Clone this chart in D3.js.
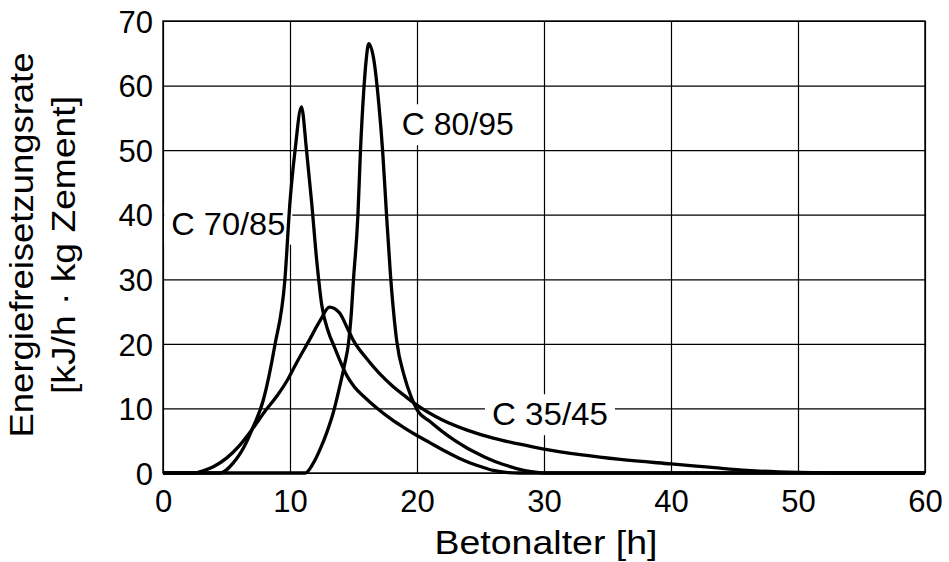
<!DOCTYPE html>
<html>
<head>
<meta charset="utf-8">
<script src="https://cdn.jsdelivr.net/npm/d3@7"></script>
<style>
    body { margin: 0; background: #fff; }
    svg { display: block; font-family: "Liberation Sans", Arial, sans-serif; }
</style>
</head>
<body>
<svg id="chart" width="949" height="562"></svg>
<script>
// Data
const xTicks = [0, 10, 20, 30, 40, 50, 60];
const yTicks = [0, 10, 20, 30, 40, 50, 60, 70];

const c3545Hours = [0, 2.5, 3.1, 4, 5, 6, 7, 8, 9, 9.8, 10.5, 11.5, 12.4, 13.1, 13.9, 14.5, 15, 16, 17, 18, 19, 20, 22, 24, 26, 28, 30, 33, 36, 40, 43, 46, 50, 55, 60];
const c3545Rate  = [0, 0, 0.3, 1, 2.3, 4.2, 6.7, 9.5, 12, 14.4, 17, 20.5, 23.7, 25.7, 24.8, 22.5, 20.5, 17.8, 15.5, 13.6, 12, 10.5, 8.2, 6.6, 5.4, 4.5, 3.7, 2.8, 2.1, 1.4, 0.9, 0.4, 0.1, 0, 0];

const c7085Hours = [0, 4.5, 5.5, 6.5, 7, 7.9, 8.8, 9.6, 10, 10.4, 10.9, 11.3, 11.7, 12.1, 12.5, 13, 13.5, 14.5, 15, 16, 17, 18, 19, 20, 21, 22, 23, 24, 25, 26, 27, 28, 60];
const c7085Rate  = [0, 0, 1.5, 4.5, 6.7, 11.3, 19.7, 30, 42, 50, 56.7, 50, 42, 33, 26, 22, 19.5, 15, 13.5, 11.5, 9.8, 8.3, 7, 5.8, 4.7, 3.6, 2.6, 1.7, 1, 0.4, 0.1, 0, 0];

const c8095Hours = [0, 11.2, 11.8, 12.4, 12.9, 13.4, 13.9, 14.3, 14.6, 14.8, 15, 15.35, 15.55, 15.8, 16, 16.2, 16.6, 17, 17.3, 17.6, 17.9, 18.4, 19, 19.5, 20, 21, 22, 23, 24, 25, 26, 27, 28, 29, 30, 60];
const c8095Rate  = [0, 0, 1.4, 3.8, 6.3, 9.3, 13.3, 16.8, 20, 24, 30, 40, 50, 59, 64, 66.5, 64, 57, 49.7, 40, 31, 20.5, 15, 12, 9.8, 8, 6.4, 5, 3.8, 2.8, 1.9, 1.2, 0.6, 0.2, 0, 0];

const seriesLabels = ['C 35/45', 'C 70/85', 'C 80/95'];

// label anchors in data units (start of text, baseline)
const annotations = [
    { text: 'C 70/85', t: 0.65, v: 36.9, len: 114 },
    { text: 'C 80/95', t: 18.8, v: 52.3, len: 112 },
    { text: 'C 35/45', t: 25.9, v: 7.4, len: 116 }
];

const series = [
    { label: seriesLabels[0], hours: c3545Hours, rate: c3545Rate },
    { label: seriesLabels[1], hours: c7085Hours, rate: c7085Rate },
    { label: seriesLabels[2], hours: c8095Hours, rate: c8095Rate }
];

// Plot frame
const frame = { left: 163, right: 925, top: 21, bottom: 473 };

const svg = d3.select("#chart");

const x = d3.scaleLinear().domain([0, 60]).range([frame.left, frame.right]);
const y = d3.scaleLinear().domain([0, 70]).range([frame.bottom, frame.top]);

// Grid + tick labels
const xAxis = svg.append("g")
    .attr("transform", `translate(0,${frame.bottom})`)
    .call(d3.axisBottom(x).tickValues(xTicks).tickSize(-(frame.bottom - frame.top)).tickPadding(17));

const yAxis = svg.append("g")
    .attr("transform", `translate(${frame.left},0)`)
    .call(d3.axisLeft(y).tickValues(yTicks).tickSize(-(frame.right - frame.left)).tickPadding(10));

[xAxis, yAxis].forEach(g => {
    g.select(".domain").remove();
    g.selectAll(".tick line").attr("stroke", "#000").attr("stroke-width", 1.2);
    g.selectAll(".tick text")
        .attr("fill", "#000")
        .style("font-size", "31px")
        .style("font-family", '"Liberation Sans", Arial, sans-serif');
});
yAxis.selectAll(".tick text").attr("dy", "0.36em");

// Frame
svg.append("rect")
    .attr("x", frame.left).attr("y", frame.top)
    .attr("width", frame.right - frame.left).attr("height", frame.bottom - frame.top)
    .attr("fill", "none").attr("stroke", "#000").attr("stroke-width", 1.4);

// Curve labels with white boxes that interrupt the grid
const labelG = svg.append("g");
annotations.forEach(a => {
    const txt = labelG.append("text")
        .attr("x", x(a.t)).attr("y", y(a.v))
        .attr("textLength", a.len).attr("lengthAdjust", "spacingAndGlyphs")
        .style("font-size", "31px")
        .text(a.text);
    const b = txt.node().getBBox();
    labelG.insert("rect", "text")
        .attr("x", b.x - 7).attr("y", b.y - 3)
        .attr("width", b.width + 14).attr("height", b.height + 6)
        .attr("fill", "#fff");
});

// Curves
const line = d3.line()
    .x(d => x(d[0]))
    .y(d => y(d[1]))
    .curve(d3.curveMonotoneX);

svg.selectAll(".curve")
    .data(series)
    .enter()
    .append("path")
    .attr("class", "curve")
    .attr("d", d => line(d.hours.map((h, i) => [h, d.rate[i]])))
    .attr("fill", "none")
    .attr("stroke", "#000")
    .attr("stroke-width", 3.3)
    .attr("stroke-linejoin", "round");

// Axis titles
svg.append("text")
    .attr("x", 546).attr("y", 554)
    .attr("text-anchor", "middle")
    .attr("textLength", 223).attr("lengthAdjust", "spacingAndGlyphs")
    .style("font-size", "33px")
    .text("Betonalter [h]");

const yTitle = svg.append("g").attr("transform", "translate(33,245) rotate(-90)");
yTitle.append("text")
    .attr("text-anchor", "middle")
    .attr("textLength", 385).attr("lengthAdjust", "spacingAndGlyphs")
    .style("font-size", "33px")
    .text("Energiefreisetzungsrate");
yTitle.append("text")
    .attr("y", 42)
    .attr("text-anchor", "middle")
    .attr("textLength", 298).attr("lengthAdjust", "spacingAndGlyphs")
    .style("font-size", "33px")
    .text("[kJ/h · kg Zement]");
</script>
</body>
</html>
